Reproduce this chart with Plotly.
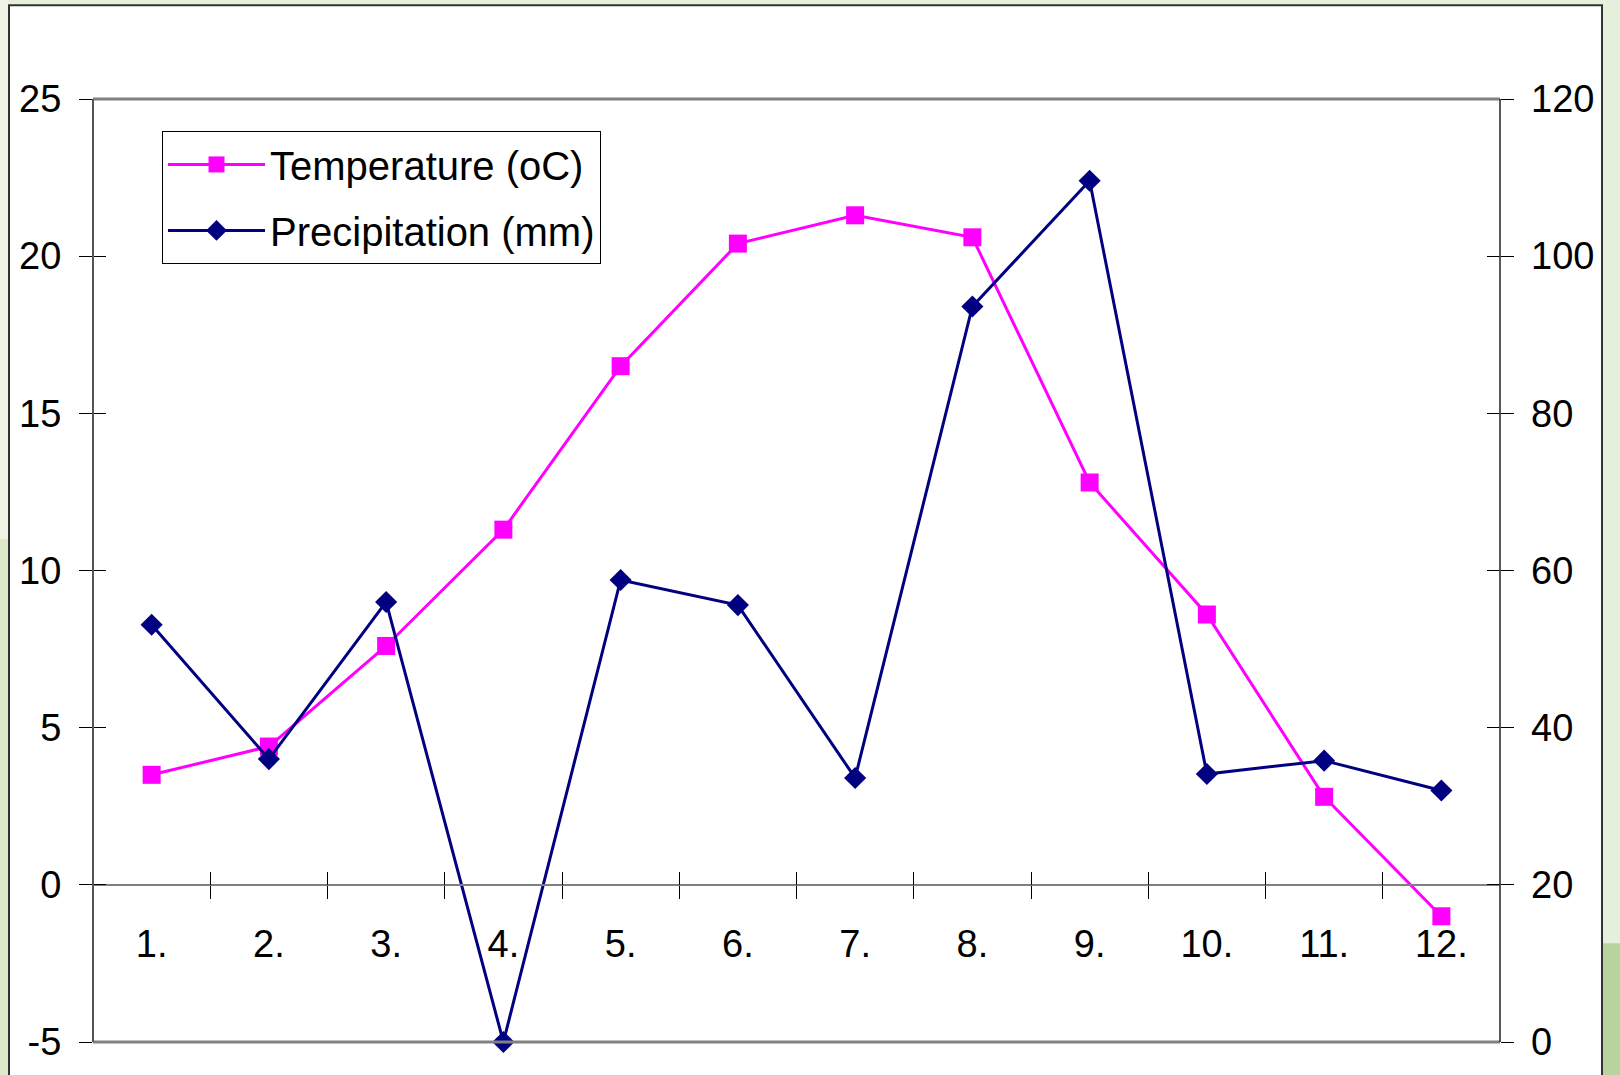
import plotly.graph_objects as go

months = ["1.", "2.", "3.", "4.", "5.", "6.", "7.", "8.", "9.", "10.", "11.", "12."]
temperature = [3.5, 4.4, 7.6, 11.3, 16.5, 20.4, 21.3, 20.6, 12.8, 8.6, 2.8, -1.0]
precipitation = [53.1, 36.0, 56.0, 0.0, 58.8, 55.6, 33.6, 93.6, 109.6, 34.1, 35.8, 32.0]
temp_ticks = [-5, 0, 5, 10, 15, 20, 25]
precip_ticks = [0, 20, 40, 60, 80, 100, 120]

xpos = list(range(1, len(months) + 1))
bounds = [i + 0.5 for i in xpos[:-1]]

FONT = "Liberation Sans, Arial, sans-serif"
W, H = 1620, 1075
L, R, T, B = 93, 120, 99, 31
pw, ph = W - L - R, H - T - B


def px(x):
    return (x - L) / pw


def py(y):
    return (H - B - y) / ph


zero_frac = (0 - temp_ticks[0]) / (temp_ticks[-1] - temp_ticks[0])

fig = go.Figure()
fig.add_trace(go.Scatter(
    x=xpos, y=temperature, name="Temperature (oC)", mode="lines+markers",
    line=dict(color="#FF00FF", width=3),
    marker=dict(symbol="square", size=18, color="#FF00FF"),
    xaxis="x", yaxis="y", cliponaxis=False, legendgroup="t",
))
fig.add_trace(go.Scatter(
    x=xpos, y=precipitation, name="Precipitation (mm)", mode="lines+markers",
    line=dict(color="#000080", width=3),
    marker=dict(symbol="diamond", size=17, color="#000080"),
    xaxis="x2", yaxis="y2", cliponaxis=False, legendgroup="p",
))

tickfont = dict(family=FONT, size=38, color="black")

shapes = [
    # background strips
    dict(type="rect", xref="paper", yref="paper", x0=px(0), x1=px(9), y0=py(0), y1=py(540),
         fillcolor="#f1f3e5", line=dict(width=0), layer="below"),
    dict(type="rect", xref="paper", yref="paper", x0=px(0), x1=px(9), y0=py(540), y1=py(1080),
         fillcolor="#dce9ca", line=dict(width=0), layer="below"),
    dict(type="rect", xref="paper", yref="paper", x0=px(1602), x1=px(1625), y0=py(0), y1=py(945),
         fillcolor="#e6eedc", line=dict(width=0), layer="below"),
    dict(type="rect", xref="paper", yref="paper", x0=px(1602), x1=px(1625), y0=py(945), y1=py(1080),
         fillcolor="#b7d49e", line=dict(width=0), layer="below"),
    # outer white box
    dict(type="rect", xref="paper", yref="paper", x0=px(9), x1=px(1602), y0=py(5), y1=py(1085),
         fillcolor="white", line=dict(color="#333333", width=2), layer="below"),
    # plot frame top / bottom
    dict(type="line", xref="paper", yref="paper", x0=0, x1=1, y0=1, y1=1,
         line=dict(color="#808080", width=3)),
    dict(type="line", xref="paper", yref="paper", x0=0, x1=1, y0=0, y1=0,
         line=dict(color="#808080", width=3)),
    # left / right axis lines
    dict(type="line", xref="paper", yref="paper", x0=0, x1=0, y0=0, y1=1,
         line=dict(color="#555555", width=2)),
    dict(type="line", xref="paper", yref="paper", x0=1, x1=1, y0=0, y1=1,
         line=dict(color="#222222", width=1.5)),
]

fig.update_layout(
    width=W, height=H,
    margin=dict(l=L, r=R, t=T, b=B, pad=0),
    paper_bgcolor="#e6eedc",
    plot_bgcolor="white",
    font=dict(family=FONT, size=38, color="black"),
    showlegend=True,
    legend=dict(
        x=px(162), y=py(131), xanchor="left", yanchor="top",
        bgcolor="white", bordercolor="black", borderwidth=1,
        font=dict(family=FONT, size=40, color="black"),
        itemwidth=97, traceorder="grouped", tracegroupgap=11,
    ),
    xaxis=dict(
        range=[0.5, len(months) + 0.5], anchor="free", position=zero_frac,
        tickmode="array", tickvals=xpos, ticktext=months, ticks="",
        tickfont=tickfont, ticklabelstandoff=26,
        showline=True, linecolor="#808080", linewidth=2,
        showgrid=False, zeroline=False,
        minor=dict(tickmode="array", tickvals=bounds, ticks="outside",
                   ticklen=13, tickcolor="black", tickwidth=1, showgrid=False),
    ),
    xaxis2=dict(
        range=[0.5, len(months) + 0.5], overlaying="x", anchor="free", position=zero_frac,
        tickmode="array", tickvals=bounds, showticklabels=False,
        ticks="inside", ticklen=13, tickcolor="black", tickwidth=1,
        showline=False, showgrid=False, zeroline=False,
    ),
    yaxis=dict(
        range=[temp_ticks[0], temp_ticks[-1]], tickmode="array", tickvals=temp_ticks,
        ticktext=[str(v) for v in temp_ticks],
        ticks="outside", ticklen=13, tickcolor="black", tickwidth=1, mirror="ticks",
        tickfont=tickfont, ticklabelstandoff=10,
        showline=False, showgrid=False, zeroline=False,
    ),
    yaxis2=dict(
        range=[precip_ticks[0], precip_ticks[-1]], tickmode="array", tickvals=precip_ticks,
        ticktext=[str(v) for v in precip_ticks],
        overlaying="y", side="right", anchor="x2",
        ticks="inside", ticklen=13, tickcolor="black", tickwidth=1, mirror="ticks",
        tickfont=tickfont, ticklabelstandoff=30,
        showline=False, showgrid=False, zeroline=False,
    ),
    shapes=shapes,
)

fig.write_html("out.html")
